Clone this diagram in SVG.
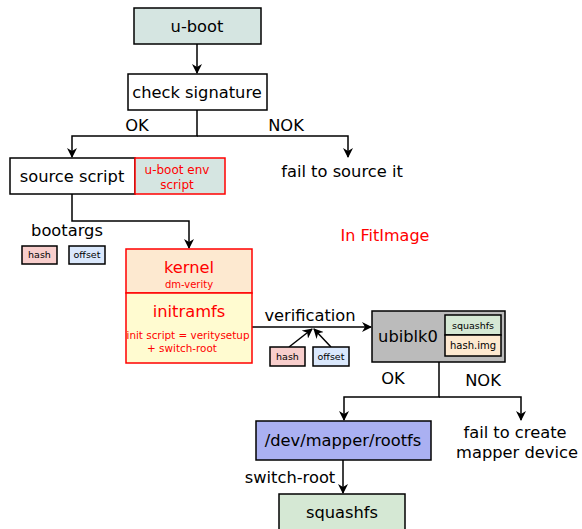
<svg xmlns="http://www.w3.org/2000/svg" width="582" height="529" viewBox="0 0 582 529">
<defs>
<marker id="ah" markerWidth="10" markerHeight="10" refX="9" refY="5" orient="auto" markerUnits="userSpaceOnUse">
<path d="M0,0 L10,5 L0,10 L3,5 Z" fill="#000"/>
</marker>
<style>
text{font-family:"DejaVu Sans",sans-serif;text-anchor:middle;fill:#000}
.b{stroke:#000;stroke-width:1.5}
.r{stroke:#ff0000;stroke-width:1.5}
.red{fill:#ff0000}
.c{fill:none;stroke:#000;stroke-width:1.5}
.l{font-size:16.3px}
.s{font-size:9.5px}
</style>
</defs>
<rect width="582" height="529" fill="#fff"/>
<g id="connectors">
<path class="c" d="M197,44 V73" marker-end="url(#ah)"/>
<path class="c" d="M197,110 V136 H72 V157" marker-end="url(#ah)"/>
<path class="c" d="M197,136 H348 V157" marker-end="url(#ah)"/>
<path class="c" d="M72,194 V221 H189 V248" marker-end="url(#ah)"/>
<path class="c" d="M252,327 H371" marker-end="url(#ah)"/>
<path class="c" d="M289,347 L312,329" marker-end="url(#ah)"/>
<path class="c" d="M331,347 L314,329" marker-end="url(#ah)"/>
<path class="c" d="M439,362 V397 H344 V420" marker-end="url(#ah)"/>
<path class="c" d="M439,397 H521 V420" marker-end="url(#ah)"/>
<path class="c" d="M343,460 V493" marker-end="url(#ah)"/>
<text class="l" x="137" y="131">OK</text>
<text class="l" x="286" y="131">NOK</text>
<text class="l" x="310" y="321">verification</text>
<text class="l" x="393" y="384">OK</text>
<text class="l" x="483" y="386">NOK</text>
<text class="l" x="290" y="483">switch-root</text>
</g>
<g id="uboot">
<rect class="b" x="134" y="8" width="127" height="36" fill="#d5e5e1"/>
<text x="197" y="32" font-size="16.3">u-boot</text>
</g>
<g id="check">
<rect class="b" x="128" y="74" width="139" height="36" fill="#fff"/>
<text x="197" y="98" font-size="16.3">check signature</text>
</g>
<g id="source">
<rect class="b" x="10" y="158" width="125" height="36" fill="#fff"/>
<text x="72" y="182" font-size="16.3">source script</text>
</g>
<g id="envscript">
<rect class="r" x="135" y="158" width="90" height="36" fill="#d5e5e1"/>
<text class="red" x="177" y="174" font-size="12">u-boot env</text>
<text class="red" x="177" y="189" font-size="12">script</text>
</g>
<g id="failsource">
<text class="l" x="342" y="177">fail to source it</text>
</g>
<g id="fitimage">
<text class="red" x="385" y="241" font-size="16">In FitImage</text>
</g>
<g id="bootargs">
<text class="l" x="67" y="236">bootargs</text>
<rect class="b" x="22" y="246" width="35" height="18" fill="#f8cecc"/>
<text class="s" x="39.5" y="258">hash</text>
<rect class="b" x="69" y="246" width="36" height="18" fill="#dae8fc"/>
<text class="s" x="87" y="258">offset</text>
</g>
<g id="kernel">
<rect class="r" x="126" y="249" width="126" height="44" fill="#fde9d0"/>
<text class="red" x="189" y="273" font-size="16.3">kernel</text>
<text class="red" x="189" y="288" font-size="10">dm-verity</text>
</g>
<g id="initramfs">
<rect class="r" x="126" y="293" width="126" height="70" fill="#fffbd0"/>
<text class="red" x="189" y="317" font-size="16.3">initramfs</text>
<text class="red" x="188" y="339" font-size="10.4">init script = veritysetup</text>
<text class="red" x="182" y="352" font-size="10.4">+ switch-root</text>
</g>
<g id="verifargs">
<rect class="b" x="270" y="347" width="35" height="19" fill="#f8cecc"/>
<text class="s" x="287.5" y="360">hash</text>
<rect class="b" x="313" y="347" width="36" height="19" fill="#dae8fc"/>
<text class="s" x="331" y="360">offset</text>
</g>
<g id="ubiblk0">
<rect class="b" x="372" y="311" width="133" height="51" fill="#bbbbbb"/>
<text x="408" y="342" font-size="16.3">ubiblk0</text>
<rect class="b" x="445" y="315" width="56" height="20" fill="#d5e8d4"/>
<text x="473" y="329" font-size="9.5">squashfs</text>
<rect class="b" x="445" y="335" width="56" height="21" fill="#fde9d0"/>
<text x="473" y="349" font-size="10">hash.img</text>
</g>
<g id="mapper">
<rect class="b" x="256" y="421" width="175" height="39" fill="#aab0f2"/>
<text x="343" y="446" font-size="16.3">/dev/mapper/rootfs</text>
</g>
<g id="failcreate">
<text class="l" x="515" y="438">fail to create</text>
<text class="l" x="517" y="458">mapper device</text>
</g>
<g id="squashfs">
<rect class="b" x="279" y="494" width="126" height="40" fill="#d5e8d4"/>
<text x="342" y="518" font-size="16.3">squashfs</text>
</g>
</svg>
